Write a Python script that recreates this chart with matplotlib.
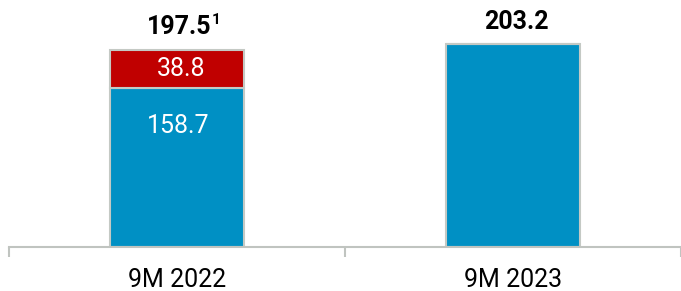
import matplotlib
matplotlib.use("Agg")
import matplotlib.pyplot as plt
import numpy as np

categories = ["9M 2022", "9M 2023"]
blue_values = [158.7, 203.2]
red_values = [38.8, 0.0]
total_labels = ["197.5", "203.2"]
total_superscripts = ["1", ""]

plt.rcParams['font.family'] = ['Roboto', 'DejaVu Sans']

BLUE = "#0090C4"
RED = "#C00000"
EDGE = "#C4C9C4"
AXIS = "#C0C4C0"

fig = plt.figure(figsize=(6.81, 2.91), dpi=100)
ax = fig.add_axes([9 / 681, 44 / 291, 1 - 9 / 681, 247 / 291])

x = np.arange(len(categories))
w = 0.4
ax.bar(x, blue_values, width=w, color=BLUE, edgecolor=EDGE, linewidth=1.5, zorder=2)
ax.bar(x, red_values, width=w, bottom=blue_values, color=RED, edgecolor=EDGE,
       linewidth=1.5, zorder=2)

# inner labels
for xi, b, r in zip(x, blue_values, red_values):
    if r > 0:
        ax.annotate(f"{r:.1f}", (xi, b + r / 2), xytext=(3, 0), textcoords="offset points",
                    ha="center", va="center", color="white", fontsize=18)
        ax.annotate(f"{b:.1f}", (xi, b - 38), xytext=(1, 0), textcoords="offset points",
                    ha="center", va="center", color="white", fontsize=18)

# totals
for xi, b, r, lab, sup in zip(x, blue_values, red_values, total_labels, total_superscripts):
    top = b + r
    dx = 1.5 if sup else 2.5
    ax.annotate(lab, (xi, top), xytext=(dx, 11), textcoords="offset points",
                ha="center", va="baseline", fontsize=18, fontweight="bold",
                color="black")
    if sup:
        ax.annotate(sup, (xi, top), xytext=(25, 18.5), textcoords="offset points",
                    ha="left", va="baseline", fontsize=11, fontweight="bold",
                    color="black")

ax.set_xlim(-0.5, 1.5)
ax.set_ylim(0, 247)
for s in ["top", "right", "left"]:
    ax.spines[s].set_visible(False)
ax.spines["bottom"].set_color(AXIS)
ax.spines["bottom"].set_linewidth(1.5)
ax.set_yticks([])
ax.set_xticks([-0.5, 0.5, 1.5])
ax.set_xticklabels([])
ax.tick_params(axis="x", which="major", length=7, width=1.5, color=AXIS, direction="out")
ax.set_xticks(x, minor=True)
ax.set_xticklabels(categories, minor=True, fontsize=18)
ax.tick_params(axis="x", which="minor", length=0, pad=15)

fig.savefig("out.png", dpi=100)
